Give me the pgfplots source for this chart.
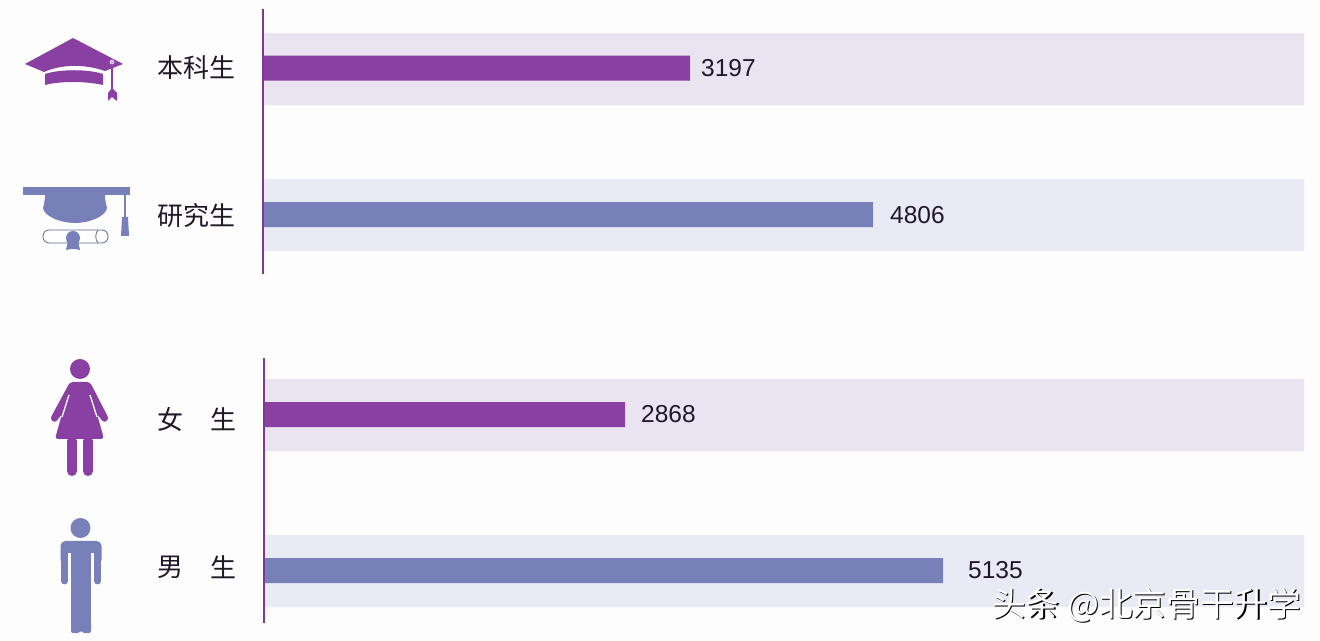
\documentclass[border=0pt]{standalone}
\usepackage{fontspec}
\setmainfont{Liberation Sans}
\newfontfamily\cjk{Noto Sans CJK SC}
\usepackage{pgfplots}
\usepackage{pgfplotstable}
\pgfplotsset{compat=1.18}
\definecolor{pg}{HTML}{FDFDFE}
\definecolor{pur}{HTML}{8A3FA2}
\definecolor{blu}{HTML}{7780B8}
\definecolor{bandp}{HTML}{EAE4F0}
\definecolor{bandb}{HTML}{EAEAF4}
\definecolor{ink}{HTML}{201828}
% y = vertical centre on the 640-unit scale; len = drawn length;
% labx = where the value label starts; value = printed value
\pgfplotstableread{
y band len barY labx labY value
69 1041 427 68 438 68 3197
415 1041 362 414.5 378 414 2868
}\purtab
\pgfplotstableread{
y band len barY labx labY value
215 1041 610 214.5 627 215 4806
571 1041 680 570.5 705 570 5135
}\blutab
\begin{document}
\begin{tikzpicture}
\fill[pg] (0,0) rectangle (1320pt,640pt);
\begin{axis}[
  scale only axis, width=1320pt, height=640pt,
  at={(0,0)}, anchor=south west,
  xmin=-263, xmax=1057, ymin=0, ymax=640, y dir=reverse,
  hide axis, clip=false]
\addplot[xbar, bar shift=0pt, bar width=72pt, draw=none, fill=bandp] table[x=band,y=y]{\purtab};
\addplot[xbar, bar shift=0pt, bar width=72pt, draw=none, fill=bandb] table[x=band,y=y]{\blutab};
\addplot[xbar, bar shift=0pt, bar width=25pt, draw=none, fill=pur] table[x=len,y=barY]{\purtab};
\addplot[xbar, bar shift=0pt, bar width=25pt, draw=none, fill=blu] table[x=len,y=barY]{\blutab};
\addplot[draw=none, mark=none, point meta=explicit symbolic, nodes near coords,
  nodes near coords style={anchor=west, inner sep=0pt, font=\fontsize{24.5}{24.5}\selectfont, text=ink}]
  table[x=labx,y=labY,meta=value]{\purtab};
\addplot[draw=none, mark=none, point meta=explicit symbolic, nodes near coords,
  nodes near coords style={anchor=west, inner sep=0pt, font=\fontsize{24.5}{24.5}\selectfont, text=ink}]
  table[x=labx,y=labY,meta=value]{\blutab};
\end{axis}
\begin{scope}[x=1pt,y=-1pt,yshift=640pt]
% axis lines
\draw[pur!90!black, line width=1.6pt] (263,9)--(263,274);
\draw[pur!90!black, line width=1.6pt] (264,358)--(264,623);
% category labels
\begin{scope}[every node/.style={anchor=west, inner sep=0pt, text=ink, font=\cjk\fontsize{26}{26}\selectfont}]
\node at (157,68) {本科生};
\node at (157,216) {研究生};
\node at (157,419) {女};
\node at (210,419) {生};
\node at (157,567) {男};
\node at (210,567) {生};
\end{scope}
% bachelor cap
\fill[pur] (25,64)--(73,38)--(123,64)--(105,71) .. controls (85,64) and (62,64) .. (44,72)--cycle;
\fill[pur] (45,74) .. controls (60,69) and (88,69) .. (103,74)--(103,85) .. controls (85,81) and (60,81) .. (45,85)--cycle;
\draw[pur, line width=1.2pt] (112,65)--(112,92);
\fill[pur] (112,88)--(117,93)--(117,101)--(112,97)--(108,101)--(108,93)--cycle;
\fill[pur!35!white] (112,62) circle (2.5);
% graduate cap
\fill[blu] (23,187) rectangle (130,195);
\fill[blu] (45,195) .. controls (45,200) and (44,205) .. (43,208) .. controls (44,216) and (60,223) .. (75,223) .. controls (90,223) and (106,216) .. (107,208) .. controls (106,204) and (105,200) .. (105,195)--cycle;
\draw[blu, line width=1.2pt] (125,195)--(125,218);
\fill[blu] (122,217)--(128,217)--(129,236)--(121,236)--cycle;
\draw[blu!80!black, line width=0.8pt, fill=white, rounded corners=6pt] (43,230) rectangle (108,243);
\draw[blu!80!black, line width=0.8pt] (98,230) .. controls (95,234) and (95,239) .. (98,243);
\fill[blu] (73,238) circle (7);
\fill[blu] (68,241)--(78,241)--(80,250)--(75,249)--(71,249)--(66,250)--cycle;
% woman
\fill[pur] (80,369) circle (10);
\fill[pur, rounded corners=3pt] (70,382)--(90,382)--(109,419)--(104,423)--(97,414)--(104,439)--(55,439)--(62,414)--(55,423)--(50,419)--cycle;
\draw[pg, line width=1.3pt] (69,395)--(62,417);
\draw[pg, line width=1.3pt] (90,395)--(97,417);
\draw[line cap=round, line width=10pt, pur] (72,441)--(72,471);
\draw[line cap=round, line width=10pt, pur] (88,441)--(88,471);
% man
\fill[blu] (80.5,528) circle (10);
\fill[blu, rounded corners=5pt] (60.5,541) rectangle (101.5,565);
\fill[pg] (68,553) rectangle (71,590);
\fill[pg] (91,553) rectangle (94,590);
\fill[blu] (71,550) rectangle (91,625);
\fill[blu, rounded corners=2pt] (71,620)--(91,620)--(91,633)--(82,633)--(81,630)--(80,633)--(71,633)--cycle;
\draw[line cap=round, line width=7pt, blu] (64.5,555)--(64.5,581);
\draw[line cap=round, line width=7pt, blu] (97.5,555)--(97.5,581);
% watermark
\node[anchor=west, inner sep=0pt, text=black, font=\cjk\fontsize{33.7}{33.7}\selectfont] at (993.2,606.2) {头条 @北京骨干升学};
\node[anchor=west, inner sep=0pt, text=white, font=\cjk\fontsize{33.7}{33.7}\selectfont] at (992,605) {头条 @北京骨干升学};
\end{scope}
\path (0,0) rectangle (1320pt,640pt);
\end{tikzpicture}
\end{document}
